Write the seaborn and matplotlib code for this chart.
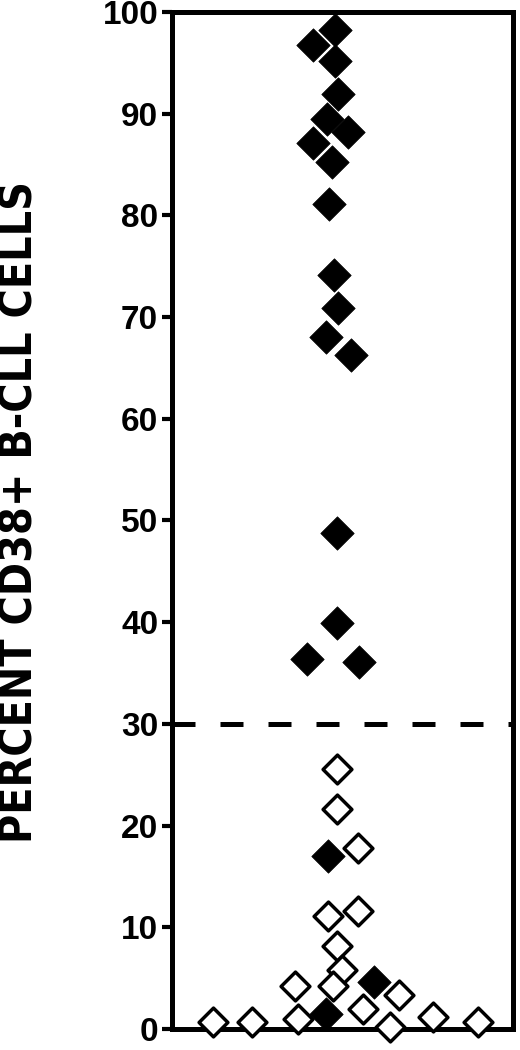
"""
CD38+ B-CLL 细胞百分比散点图（阈值 30%）。
"""

import matplotlib

matplotlib.use("Agg")

import matplotlib.pyplot as plt
import pandas as pd
import seaborn as sns


# 实心菱形：CD38 高表达病例
filled_pct = [98.2, 96.8, 95.2, 91.9, 89.5, 88.2, 87.1, 85.2, 81.1, 74.1,
              70.9, 68.0, 66.3, 48.8, 39.9, 36.4, 36.1, 17.0, 4.6, 1.5]
filled_spread = [0.478, 0.413, 0.478, 0.486, 0.454, 0.517, 0.413, 0.468, 0.461, 0.476,
                 0.485, 0.452, 0.524, 0.484, 0.484, 0.395, 0.547, 0.457, 0.593, 0.451]

# 空心菱形：CD38 低表达病例
open_pct = [25.6, 21.6, 17.8, 11.1, 11.6, 8.2, 5.8, 4.2, 4.2, 3.3,
            2.0, 0.95, 0.7, 0.7, 0.2, 1.2, 0.7]
open_spread = [0.482, 0.482, 0.545, 0.457, 0.545, 0.482, 0.498, 0.361, 0.473, 0.665,
               0.560, 0.369, 0.121, 0.234, 0.640, 0.766, 0.896]

threshold = 30
y_ticks = [0, 10, 20, 30, 40, 50, 60, 70, 80, 90, 100]
y_label = "PERCENT CD38+ B-CLL CELLS"

sns.set_theme(style="white")
plt.rcParams["font.family"] = ["Liberation Sans", "DejaVu Sans"]
plt.rcParams["text.color"] = "black"
plt.rcParams["ytick.color"] = "black"

filled_df = pd.DataFrame({"spread": filled_spread, "pct": filled_pct})
open_df = pd.DataFrame({"spread": open_spread, "pct": open_pct})

fig = plt.figure(figsize=(5.2, 10.5), dpi=100)
ax = fig.add_axes([0.331, 0.02, 0.656, 0.9686])

ax.axhline(threshold, color="black", linewidth=3.6, linestyle=(0, (4.6, 5.0)),
           zorder=1)

sns.scatterplot(data=filled_df, x="spread", y="pct", ax=ax, marker="D", s=290,
                color="black", edgecolor="black", linewidth=0.5, clip_on=False,
                zorder=5, legend=False)
sns.scatterplot(data=open_df, x="spread", y="pct", ax=ax, marker="D", s=215,
                facecolor="white", edgecolor="black", linewidth=2.5, clip_on=False,
                zorder=5, legend=False)

ax.set_xlim(0, 1)
ax.set_ylim(0, 100)
ax.set_xticks([])
ax.set_xlabel("")
ax.set_ylabel("")
ax.set_yticks(y_ticks)
ax.set_yticklabels([str(t) for t in y_ticks], fontsize=24, fontweight="bold",
                   color="black")
ax.tick_params(axis="y", direction="out", length=7, width=3, pad=3, color="black",
               left=True)

for spine in ax.spines.values():
    spine.set_visible(True)
    spine.set_linewidth(3.6)
    spine.set_color("black")
    spine.set_zorder(3)

fig.text(0.038, 0.512, y_label, rotation=90, ha="center", va="center",
         fontsize=32, fontweight="bold", fontstretch="condensed",
         family=["DejaVu Sans"], color="black")

fig.savefig("out.png", dpi=100)
plt.close(fig)
